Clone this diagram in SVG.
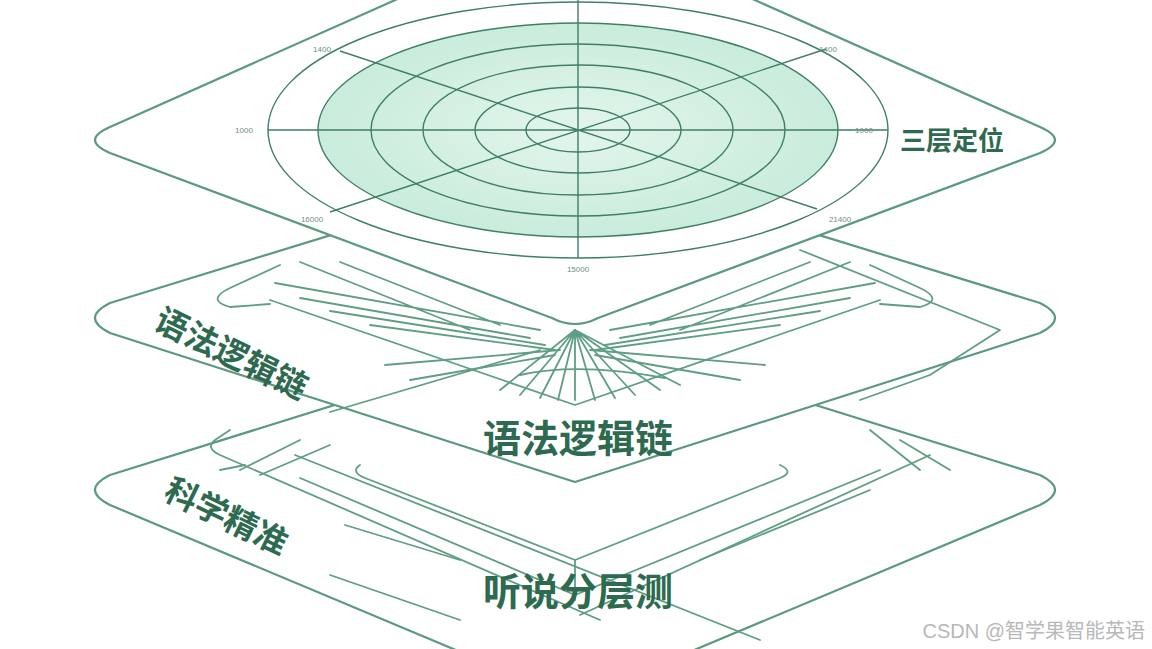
<svg xmlns="http://www.w3.org/2000/svg" width="1152" height="649" viewBox="0 0 1152 649">
<style>
.o{fill:#fff;stroke:#5a9a7e;stroke-width:2.2;stroke-linejoin:round}
.l{fill:none;stroke:#5f9e83;stroke-width:1.8;stroke-linecap:round;stroke-linejoin:round}
.t{fill:none;stroke:#3f7f66;stroke-width:1.4}
.big{font-family:"Noto Sans CJK SC",sans-serif;font-weight:700;fill:#2d6a4f;text-anchor:middle}
.side{font-family:"Noto Sans CJK SC",sans-serif;font-weight:700;fill:#2d6a4f;text-anchor:start}
.s{font-family:"Liberation Sans",sans-serif;font-size:8px;fill:#6f8f80;text-anchor:middle}
</style>
<defs>
<radialGradient id="g" cx="0.5" cy="0.5" r="0.5"><stop offset="0" stop-color="#e3f5ec"/><stop offset="1" stop-color="#c9ecdc"/></radialGradient>
</defs>
<rect width="1152" height="649" fill="#fff"/>
<g id="layer3">
<path class="o" d="M575 330 L1040 475 Q1070 490 1040 505 L575 700 L110 505 Q80 490 110 475 Z"/>
<path class="l" d="M230 430 L215 440 Q205 448 220 455 L600 620"/>
<path class="l" d="M245 465 L220 470 M240 470 L300 440 M260 475 L330 445"/>
<path class="l" d="M295 455 L760 640"/>
<path class="l" d="M360 465 Q350 472 365 478 L575 560 L780 478 Q795 472 780 465"/>
<path class="l" d="M300 478 L575 595 L880 470"/>
<path class="l" d="M930 455 L580 615 M900 440 L950 470 M870 430 L920 470"/>
<path class="l" d="M575 560 L575 600"/>
<path class="l" d="M345 525 L460 560 M330 575 L460 620 M700 560 L870 490"/>
<text class="big" x="578" y="605" font-size="38">听说分层测</text>
<text class="side" x="0" y="0" font-size="33" transform="translate(162,498) rotate(26)">科学精准</text>
</g>
<g id="layer2">
<path class="o" d="M575 160 L1040 303 Q1070 318 1040 333 L575 482 L110 333 Q80 318 110 303 Z"/>
<path class="l" d="M280 265 L230 288 Q205 300 230 307 L270 304"/>
<path class="l" d="M275 283 L540 330 M300 298 L530 338 M330 311 L545 345 M370 325 L555 350 M300 262 L470 330 M340 262 L500 325 M385 365 L560 350 M410 380 L555 355"/>
<path class="l" d="M870 265 L920 288 Q945 300 920 307 L880 304"/>
<path class="l" d="M875 283 L610 330 M850 298 L620 338 M820 311 L605 345 M780 325 L595 350 M850 262 L680 330 M810 262 L650 325 M765 365 L590 350 M740 380 L595 355"/>
<path class="l" d="M270 300 L575 405 L880 300"/>
<path class="l" d="M330 412 L540 350 M800 250 L1000 330 L930 375 L860 400"/>
<path class="l" d="M520 375 Q578 362 665 378"/>
<path class="l" d="M575 330 L500 390 M575 330 L520 395 M575 330 L540 398 M575 330 L558 400 M575 330 L575 400 M575 330 L595 400 M575 330 L615 398 M575 330 L635 395 M575 330 L660 390 M575 330 L680 385"/>
<text class="big" x="578" y="452" font-size="38">语法逻辑链</text>
<text class="side" x="0" y="0" font-size="33" transform="translate(152,328) rotate(26)">语法逻辑链</text>
</g>
<g id="layer1">
<path class="o" d="M575 -80 L1040 127 Q1070 140 1040 153 L598 318 Q575 330 552 318 L110 153 Q80 140 110 127 Z"/>
<ellipse class="t" cx="578" cy="130" rx="310" ry="128" fill="none"/>
<ellipse cx="578" cy="130" rx="260" ry="107" fill="url(#g)" stroke="#3f7f66" stroke-width="1.4"/>
<ellipse class="t" cx="578" cy="130" rx="207" ry="86"/>
<ellipse class="t" cx="578" cy="130" rx="155" ry="65"/>
<ellipse class="t" cx="578" cy="130" rx="103" ry="43"/>
<ellipse class="t" cx="578" cy="130" rx="52" ry="22"/>
<path class="t" d="M268 130 L888 130 M578 0 L578 258 M340 51 L817 209 M330 212 L826 49"/>
<text class="s" x="322" y="52">1400</text>
<text class="s" x="828" y="52">1400</text>
<text class="s" x="244" y="133">1000</text>
<text class="s" x="864" y="133">1000</text>
<text class="s" x="312" y="222">16000</text>
<text class="s" x="840" y="222">21400</text>
<text class="s" x="578" y="272">15000</text>
<text class="big" x="952" y="150" font-size="26">三层定位</text>
</g>
<text x="1145" y="638" font-family="Liberation Sans,Noto Sans CJK SC,sans-serif" font-size="20" fill="#b8b8b8" text-anchor="end">CSDN @智学果智能英语</text>
</svg>
